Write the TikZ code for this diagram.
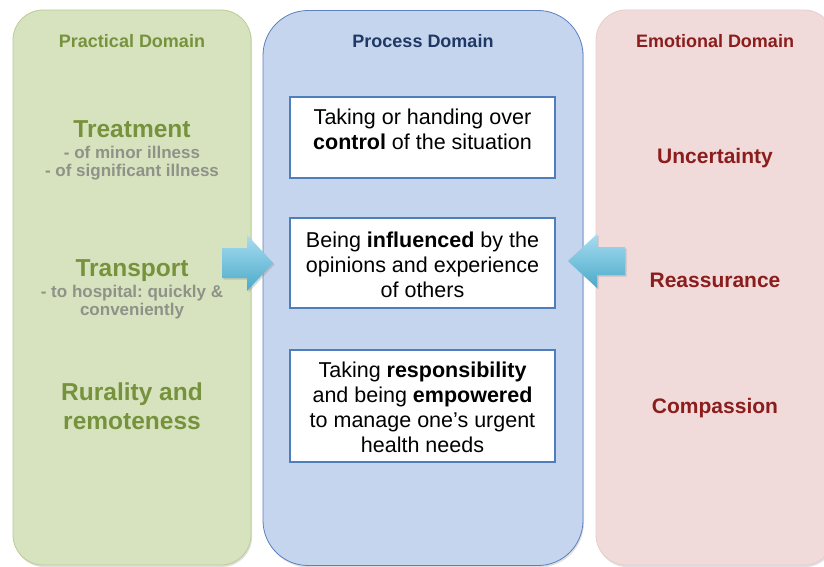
\documentclass[tikz,border=0pt]{standalone}
\usepackage{fontspec}
\setmainfont{Liberation Sans}
\usetikzlibrary{shadows}
\frenchspacing

\definecolor{practicalfill}{HTML}{D7E3BE}
\definecolor{practicaledge}{HTML}{BCCB98}
\definecolor{practicalhead}{HTML}{76923C}
\definecolor{practicalnote}{HTML}{8E9288}
\definecolor{processfill}{HTML}{C5D5EE}
\definecolor{processedge}{HTML}{5B80BD}
\definecolor{processhead}{HTML}{1F3864}
\definecolor{emotionfill}{HTML}{F0DBDA}
\definecolor{emotionedge}{HTML}{E8CDCC}
\definecolor{emotionhead}{HTML}{8B1D1D}
\definecolor{boxedge}{HTML}{4F7EBD}
\definecolor{arrowtop}{HTML}{A8DCF1}
\definecolor{arrowbottom}{HTML}{4AAAC8}

\newcommand{\domainfont}{\bfseries\fontsize{18}{21}\selectfont}
\newcommand{\themefont}{\bfseries\fontsize{24.5}{29}\selectfont}
\newcommand{\notefont}{\bfseries\fontsize{17}{19}\selectfont}
\newcommand{\feelfont}{\bfseries\fontsize{21}{25}\selectfont}
\newcommand{\boxfont}{\fontsize{21.5}{25}\selectfont}

\tikzset{
  panel/.style={rounded corners=30pt, minimum width=238, minimum height=555, line width=0.8pt,
    drop shadow={opacity=0.25, shadow xshift=1pt, shadow yshift=-2pt}},
  domaintitle/.style={anchor=base, font=\domainfont},
  theme/.style={anchor=base, font=\themefont, text=practicalhead},
  subnote/.style={anchor=base, font=\notefont, text=practicalnote},
  feeling/.style={anchor=base, font=\feelfont, text=emotionhead},
  stepbox/.style={draw=boxedge, line width=2pt, fill=white, minimum width=265},
  boxtext/.style={align=center, font=\boxfont, inner sep=0},
  blockarrow/.style={top color=arrowtop, bottom color=arrowbottom,
    drop shadow={opacity=0.3, shadow xshift=1.5pt, shadow yshift=-1.5pt}}
}

\begin{document}
\begin{tikzpicture}[x=1pt, y=-1pt]
\useasboundingbox (0,0) rectangle (824,567);
\clip (0,0) rectangle (824,567);

% the three domains
\node[panel, fill=practicalfill, draw=practicaledge] (practical) at (132,287.5) {};
\node[panel, fill=processfill, draw=processedge, rounded corners=45pt, minimum width=320] (process) at (423,288) {};
\node[panel, fill=emotionfill, draw=emotionedge] (emotional) at (715,287.5) {};

\node[domaintitle, text=practicalhead] (practicaltitle) at (132,48) {Practical Domain};
\node[domaintitle, text=processhead] (processtitle) at (423,48) {Process Domain};
\node[domaintitle, text=emotionhead] (emotionaltitle) at (715,48) {Emotional Domain};

% practical side
\node[theme] (treatment) at (132,137) {Treatment};
\node[subnote] (minor) at (132,158) {- of minor illness};
\node[subnote] (significant) at (132,176) {- of significant illness};
\node[theme] (transport) at (132,276) {Transport};
\node[subnote] (hospital) at (132,297) {- to hospital: quickly \&};
\node[subnote] (convenient) at (132,315) {conveniently};
\node[theme] (rurality) at (132,400) {Rurality and};
\node[theme] (remoteness) at (132,429) {remoteness};

% process boxes
\node[stepbox, minimum height=81] (control) at (422.5,137.5) {};
\node[boxtext] (controltext) at (422.5,129) {Taking or handing over\\\textbf{control} of the situation};
\node[stepbox, minimum height=90] (influence) at (422.5,263) {};
\node[boxtext] (influencetext) at (422.5,265) {Being \textbf{influenced} by the\\opinions and experience\\of others};
\node[stepbox, minimum height=112] (responsibility) at (422.5,406) {};
\node[boxtext] (responsibilitytext) at (422.5,407.5) {Taking \textbf{responsibility}\\and being \textbf{empowered}\\to manage one's urgent\\health needs};

% emotional side
\node[feeling] (uncertainty) at (715,163) {Uncertainty};
\node[feeling] (reassurance) at (715,287) {Reassurance};
\node[feeling] (compassion) at (715,413) {Compassion};

% block arrows into the process domain
\path[blockarrow] (222,248) -- (247,248) -- (247,235) -- (273,263) -- (247,291) -- (247,278) -- (222,278) -- cycle;
\path[blockarrow] (625,247) -- (597,247) -- (597,234) -- (568,261) -- (597,288) -- (597,275) -- (625,275) -- cycle;
\end{tikzpicture}
\end{document}
